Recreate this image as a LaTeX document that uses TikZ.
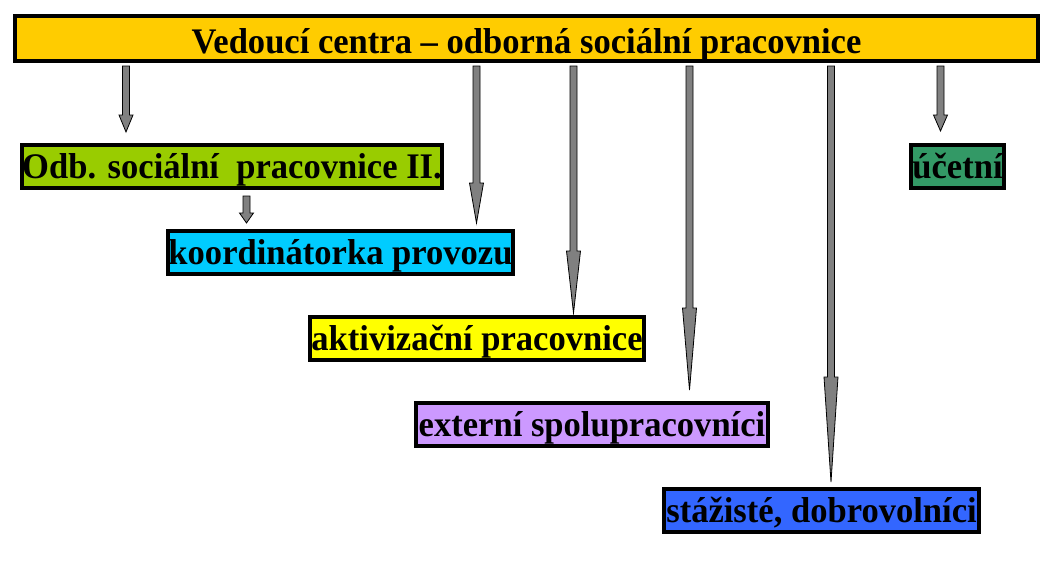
\documentclass[tikz,border=0pt]{standalone}
\usepackage{fontspec}
\setmainfont{Liberation Serif}
\usetikzlibrary{calc}
\definecolor{ctop}{HTML}{FFCC00}
\definecolor{codb}{HTML}{99CC00}
\definecolor{ckoord}{HTML}{00CCFF}
\definecolor{caktiv}{HTML}{FFFF00}
\definecolor{cext}{HTML}{CC99FF}
\definecolor{cstaz}{HTML}{3366FF}
\definecolor{cucet}{HTML}{339966}
\definecolor{arrowgray}{HTML}{808080}
\newcommand{\sqz}[1]{\scalebox{0.96}[1]{#1}}
\newcommand{\barrow}[3]{%
  \draw[blockarrow] let \p1=(#1), \p2=(#2) in
   (\x1-3.5pt,\y1) -- (\x1+3.5pt,\y1) -- (\x1+3.5pt,\y2+#3pt) -- (\x1+7pt,\y2+#3pt)
   -- (\x1,\y2) -- (\x1-7pt,\y2+#3pt) -- (\x1-3.5pt,\y2+#3pt) -- cycle;}
\tikzset{
  box/.style={draw=black, line width=4pt, inner sep=0pt, text height=24pt, text depth=0pt,
    font=\fontsize{36}{36}\selectfont\bfseries, anchor=center},
  blockarrow/.style={fill=arrowgray, draw=black, line width=0.8pt, line join=miter}
}
\begin{document}
\begin{tikzpicture}[x=1pt,y=-1pt]
\useasboundingbox[fill=white] (0,0) rectangle (1057,565);
\node[box, fill=ctop, minimum width=1023pt, minimum height=45pt, text height=30pt] (top) at (526.5,38.5)
  {\sqz{Vedoucí centra – odborná sociální pracovnice}};
\node[box, fill=codb, minimum width=414pt, minimum height=43pt] (odb) at (232,166.5)
  {\sqz{Odb. sociální\ \ pracovnice II.}};
\node[box, fill=ckoord, minimum width=341pt, minimum height=43pt] (koord) at (340.5,252.5)
  {\sqz{koordinátorka provozu}};
\node[box, fill=caktiv, minimum width=334pt, minimum height=43pt] (aktiv) at (477,338.5)
  {\sqz{aktivizační pracovnice}};
\node[box, fill=cext, minimum width=352pt, minimum height=43pt] (ext) at (592,424.5)
  {\sqz{externí spolupracovníci}};
\node[box, fill=cstaz, minimum width=315pt, minimum height=43pt] (staz) at (821.5,510.5)
  {\sqz{stážisté, dobrovolníci}};
\node[box, fill=cucet, minimum width=93pt, minimum height=43pt] (ucet) at (957.5,166.5)
  {\sqz{účetní}};
% arrow columns
\coordinate (c1) at (126,0);
\coordinate (c0) at (246.5,0);
\coordinate (c2) at (476.5,0);
\coordinate (c3) at (573.5,0);
\coordinate (c4) at (689.5,0);
\coordinate (c5) at (831,0);
\coordinate (c6) at (940.5,0);
% starts and tips
\coordinate (s1) at ([yshift=-3pt]top.south -| c1);
\coordinate (t1) at ([yshift=11pt]odb.north -| c1);
\coordinate (s0) at ([yshift=-6pt]odb.south -| c0);
\coordinate (t0) at ([yshift=6pt]koord.north -| c0);
\coordinate (s2) at ([yshift=-3pt]top.south -| c2);
\coordinate (t2) at ([yshift=6pt]koord.north -| c2);
\coordinate (s3) at ([yshift=-3pt]top.south -| c3);
\coordinate (t3) at ([yshift=2pt]aktiv.north -| c3);
\coordinate (s4) at ([yshift=-3pt]top.south -| c4);
\coordinate (t4) at ([yshift=11pt]ext.north -| c4);
\coordinate (s5) at ([yshift=-3pt]top.south -| c5);
\coordinate (t5) at ([yshift=5pt]staz.north -| c5);
\coordinate (s6) at ([yshift=-3pt]top.south -| c6);
\coordinate (t6) at ([yshift=12pt]ucet.north -| c6);
\barrow{s1}{t1}{17}
\barrow{s0}{t0}{10}
\barrow{s2}{t2}{40}
\barrow{s3}{t3}{62}
\barrow{s4}{t4}{82}
\barrow{s5}{t5}{105}
\barrow{s6}{t6}{16}
\end{tikzpicture}
\end{document}
